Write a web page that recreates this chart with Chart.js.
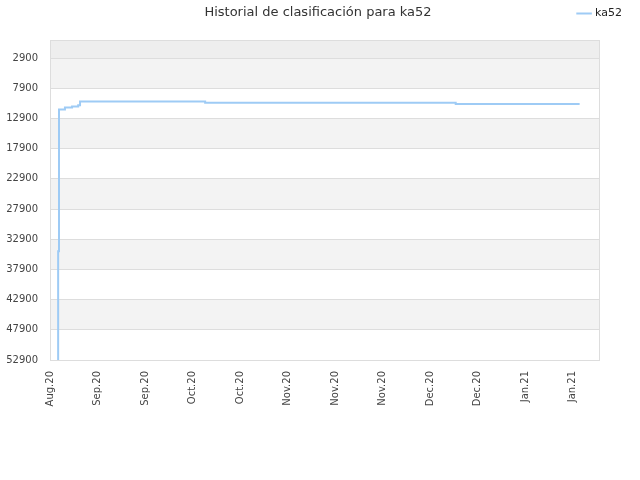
<!DOCTYPE html>
<html>
<head>
<meta charset="utf-8">
<script src="https://cdn.jsdelivr.net/npm/chart.js@4/dist/chart.umd.min.js"></script>
<style>
  html, body { margin: 0; padding: 0; background: #fff; }
  #wrap { width: 640px; height: 480px; }
</style>
</head>
<body>
<div id="wrap"><canvas id="rankChart"></canvas></div>
<script>
// days counted from the first x tick (Aug 23, 2020)
const days  = [2.4,   2.4,   2.65,  4.4,   6.5,   8.3,   8.85,  45.7,  119.5, 156];
const ranks = [52900, 34900, 11400, 11100, 10900, 10700, 10100, 10300, 10500, 10500];

const xTickDays   = [0, 14, 28, 42, 56, 70, 84, 98, 112, 126, 140, 154];
const xTickLabels = ['Aug.20', 'Sep.20', 'Sep.20', 'Oct.20', 'Oct.20', 'Nov.20',
                     'Nov.20', 'Nov.20', 'Dec.20', 'Dec.20', 'Jan.21', 'Jan.21'];
const yTicks = [2900, 7900, 12900, 17900, 22900, 27900, 32900, 37900, 42900, 47900, 52900];

const titleText = 'Historial de clasificación para ka52';
const seriesName = 'ka52';

const points = days.map((d, i) => ({ x: d, y: ranks[i] }));

const bandsPlugin = {
  id: 'bands',
  beforeDraw(chart) {
    const { ctx, chartArea: a, scales: { y } } = chart;
    ctx.save();
    // top partial band
    const yTop = y.getPixelForValue(yTicks[0]);
    ctx.fillStyle = '#eeeeee';
    ctx.fillRect(a.left, a.top, a.right - a.left, yTop - a.top);
    for (let i = 0; i < yTicks.length - 1; i++) {
      if (i % 2 === 0) {
        const p1 = y.getPixelForValue(yTicks[i]);
        const p2 = y.getPixelForValue(yTicks[i + 1]);
        ctx.fillStyle = '#f3f3f3';
        ctx.fillRect(a.left, p1, a.right - a.left, p2 - p1);
      }
    }
    ctx.strokeStyle = '#dddddd';
    ctx.lineWidth = 1;
    ctx.strokeRect(a.left + 0.5, a.top + 0.5, a.right - a.left - 1, a.bottom - a.top);
    ctx.restore();
  },
  afterDraw(chart) {
    const { ctx } = chart;
    ctx.save();
    ctx.font = '13px "DejaVu Sans"';
    ctx.fillStyle = '#333333';
    ctx.textAlign = 'center';
    ctx.textBaseline = 'middle';
    ctx.fillText(titleText, 318, 13);
    ctx.restore();
  }
};

new Chart(document.getElementById('rankChart'), {
  type: 'line',
  data: {
    datasets: [{
      label: seriesName,
      data: points,
      stepped: true,
      borderColor: '#9ecbf5',
      backgroundColor: '#9ecbf5',
      borderWidth: 2,
      pointRadius: 0,
      fill: false
    }]
  },
  plugins: [bandsPlugin],
  options: {
    responsive: true,
    maintainAspectRatio: false,
    animation: false,
    layout: { padding: { top: 2, left: 0, right: 12, bottom: 0 } },
    plugins: {
      legend: {
        position: 'top',
        align: 'end',
        labels: {
          usePointStyle: true,
          pointStyle: 'line',
          boxWidth: 12,
          boxHeight: 11,
          color: '#222',
          font: { family: 'DejaVu Sans', size: 11 },
          padding: 6
        }
      },
      title: { display: false },
      tooltip: { enabled: false }
    },
    scales: {
      x: {
        type: 'linear',
        min: 0,
        max: 162,
        afterBuildTicks: s => { s.ticks = xTickDays.map(v => ({ value: v })); },
        afterFit: s => { s.height = 120; },
        grid: { display: false },
        border: { display: false },
        ticks: {
          autoSkip: false,
          maxRotation: 90,
          minRotation: 90,
          color: '#444',
          font: { family: 'DejaVu Sans', size: 10 },
          callback: (v) => xTickLabels[xTickDays.indexOf(v)]
        }
      },
      x2: {
        position: 'top',
        display: true,
        afterFit: s => { s.height = 11; },
        grid: { display: false },
        border: { display: false },
        ticks: { display: false }
      },
      y: {
        type: 'linear',
        reverse: true,
        min: -100,
        max: 52900,
        afterBuildTicks: s => { s.ticks = yTicks.map(v => ({ value: v })); },
        afterFit: s => { s.width = 50; },
        grid: { color: '#dddddd', drawTicks: false },
        border: { display: false },
        ticks: {
          autoSkip: false,
          padding: 12,
          color: '#444',
          font: { family: 'DejaVu Sans', size: 10 },
          callback: v => String(v)
        }
      },
      y2: {
        position: 'right',
        display: true,
        afterFit: s => { s.width = 28; },
        grid: { display: false },
        border: { display: false },
        ticks: { display: false }
      }
    }
  }
});
</script>
</body>
</html>
